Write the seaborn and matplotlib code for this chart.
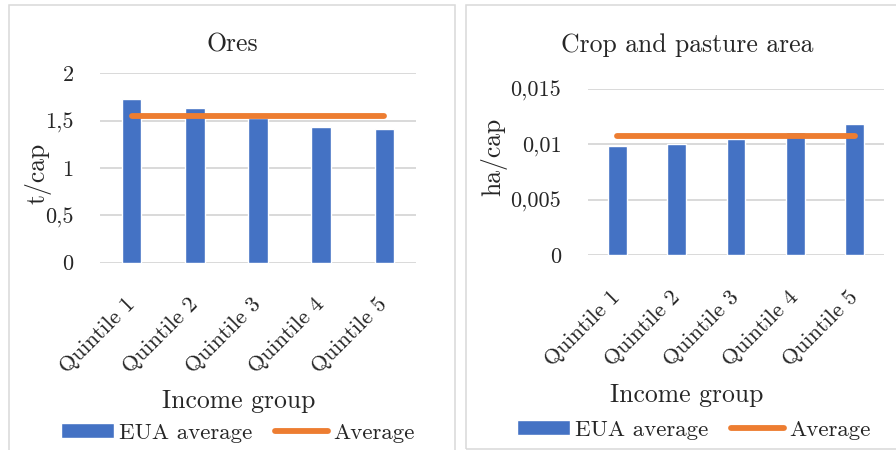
import numpy as np
import pandas as pd
import matplotlib
matplotlib.use("Agg")
import matplotlib.pyplot as plt
from matplotlib.patches import Rectangle
from matplotlib.ticker import FixedLocator, FuncFormatter
import seaborn as sns

# ---- data ----
categories = ["Quintile 1", "Quintile 2", "Quintile 3", "Quintile 4", "Quintile 5"]
ores_values = [1.725, 1.63, 1.53, 1.435, 1.41]
ores_average = 1.55
crop_values = [0.00985, 0.0100, 0.01045, 0.01108, 0.0118]
crop_average = 0.0107

ores_ticks = [0, 0.5, 1, 1.5, 2]
crop_ticks = [0, 0.005, 0.01, 0.015]

bar_label = "EUA average"
line_label = "Average"

# ---- style ----
sns.set_theme(style="white")
plt.rcParams["font.family"] = ["cmr10", "DejaVu Serif"]
plt.rcParams["axes.formatter.use_mathtext"] = True

BLUE = "#4472C4"
ORANGE = "#ED7D31"
GRID = "#d9d9d9"

W, H = 896, 450
fig = plt.figure(figsize=(W / 100, H / 100), dpi=100)


def fx(px):
    return px / W


def fy(py):
    return 1 - py / H


def comma_fmt(v, pos):
    return f"{v:g}".replace(".", ",")


def panel(rect, values, average, ticks, ylabel, title, title_x, title_y,
          ylabel_xy, xlabel_xy, legend_xy):
    left, top, right, bottom = rect
    ax = fig.add_axes([fx(left), fy(bottom), fx(right - left), (bottom - top) / H])
    df = pd.DataFrame({"group": categories, "value": values})
    sns.barplot(data=df, x="group", y="value", color=BLUE, width=0.31,
                saturation=1, ax=ax, label=bar_label, zorder=2)
    pos = np.arange(len(categories))
    sns.lineplot(x=pos, y=[average] * len(categories), color=ORANGE,
                 linewidth=4.2, ax=ax, label=line_label, zorder=3,
                 solid_capstyle="round")
    ax.set_xlim(-0.5, len(categories) - 0.5)
    ax.set_ylim(ticks[0], ticks[-1])
    ax.yaxis.set_major_locator(FixedLocator(ticks))
    ax.yaxis.set_major_formatter(FuncFormatter(comma_fmt))
    ax.yaxis.grid(True, color=GRID, linewidth=1.4, zorder=0)
    ax.set_axisbelow(True)
    for s in ax.spines.values():
        s.set_visible(False)
    ax.tick_params(axis="both", length=0)
    ax.tick_params(axis="y", pad=19, labelsize=16)
    ax.tick_params(axis="x", pad=28, labelsize=16)
    for lab in ax.get_xticklabels():
        lab.set_rotation(45)
        lab.set_ha("right")
        lab.set_va("center")
        lab.set_rotation_mode("anchor")
    ax.set_xlabel("")
    ax.set_ylabel("")
    fig.text(fx(title_x), fy(title_y), title, ha="center", va="center", fontsize=18.5)
    fig.text(fx(ylabel_xy[0]), fy(ylabel_xy[1]), ylabel, rotation=90,
             ha="center", va="center", fontsize=18.5)
    fig.text(fx(xlabel_xy[0]), fy(xlabel_xy[1]), "Income group",
             ha="center", va="baseline", fontsize=18.5)
    handles, labels = ax.get_legend_handles_labels()
    order = [labels.index(bar_label), labels.index(line_label)]
    ax.legend([handles[i] for i in order], [labels[i] for i in order],
              loc="center", bbox_to_anchor=(fx(legend_xy[0]), fy(legend_xy[1])),
              bbox_transform=fig.transFigure, ncol=2, frameon=False,
              fontsize=16.5, handlelength=2.3, handleheight=0.65,
              handletextpad=0.22, columnspacing=1.0, borderpad=0, borderaxespad=0)
    return ax


# panel frames
fig.patches.append(Rectangle((fx(8.5), fy(452)), fx(455 - 8.5), (452 - 4.7) / H,
                             transform=fig.transFigure, fill=False,
                             edgecolor=GRID, linewidth=1.1, zorder=0))
fig.patches.append(Rectangle((fx(466), fy(449)), fx(440), (449 - 4.5) / H,
                             transform=fig.transFigure, fill=False,
                             edgecolor=GRID, linewidth=1.1, zorder=0))

panel((100, 73.3, 416, 262.7), ores_values, ores_average, ores_ticks, "t/cap",
      "Ores", 232, 45, (37.5, 173), (239, 408), (238, 433))
panel((587.7, 88.7, 884.3, 255), crop_values, crop_average, crop_ticks, "ha/cap",
      "Crop and pasture area", 687, 45, (493.5, 157), (687, 402), (694, 430))

fig.savefig("out.png", dpi=100)
